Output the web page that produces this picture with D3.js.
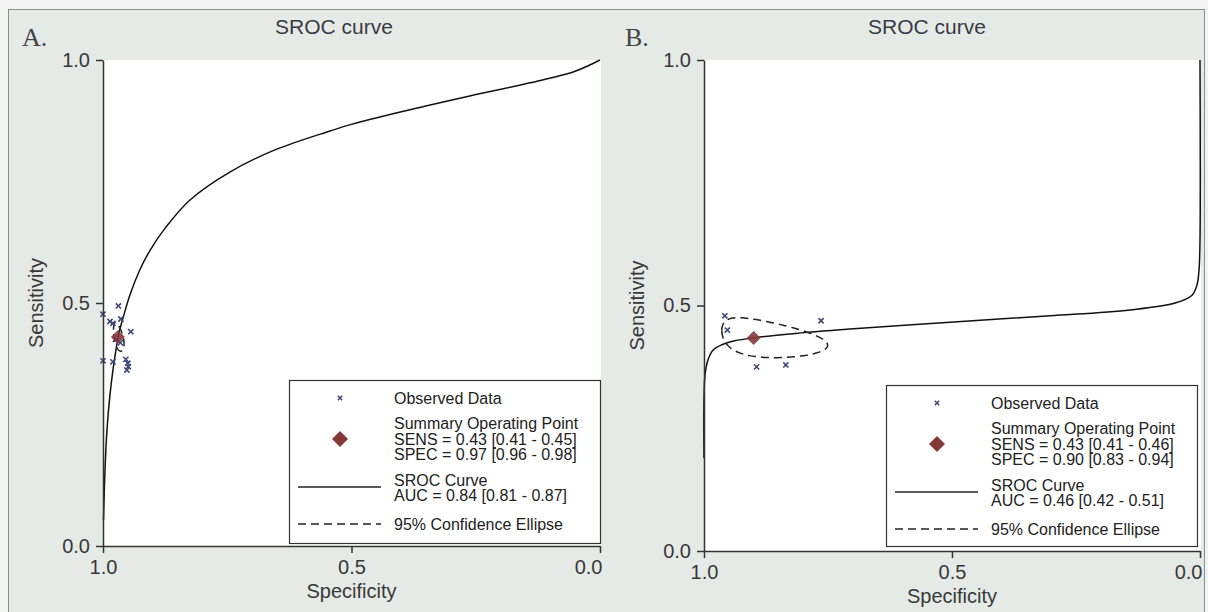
<!DOCTYPE html>
<html>
<head>
<meta charset="utf-8">
<script src="https://cdn.jsdelivr.net/npm/d3@7"></script>
<style>
body { margin: 0; background: #f3f3f3; }
</style>
</head>
<body>
<div id="drawArea"></div>
<script>
// ticks shared by both panels
var tickValues = [0, 0.5, 1];
var tickLabels = ["0.0", "0.5", "1.0"];

// panel A - observed studies (specificity, sensitivity)
var obsSpecA = [0.969, 1.0, 0.986, 0.980, 0.964, 0.944, 1.0, 0.980, 0.954, 0.950, 0.949, 0.952, 0.975, 0.965];
var obsSensA = [0.494, 0.477, 0.462, 0.458, 0.467, 0.441, 0.381, 0.379, 0.384, 0.376, 0.369, 0.362, 0.425, 0.418];
// panel A - SROC curve
var srocSpecA = [0.999, 0.996, 0.992, 0.986, 0.980, 0.974, 0.968, 0.958, 0.946, 0.926, 0.905, 0.875, 0.825, 0.744, 0.654, 0.543, 0.499, 0.402, 0.262, 0.141, 0.050, 0.0];
var srocSensA = [0.053, 0.156, 0.239, 0.311, 0.362, 0.403, 0.438, 0.475, 0.516, 0.568, 0.609, 0.654, 0.712, 0.770, 0.815, 0.854, 0.868, 0.893, 0.926, 0.953, 0.977, 1.0];
var summaryA = [0.97, 0.43];
// confidence ellipse (logit space): half widths and correlation
var ellipseA = [0.36, 0.12, 0.5];
var legendA = ["Observed Data", "Summary Operating Point", "SENS = 0.43 [0.41 - 0.45]", "SPEC = 0.97 [0.96 - 0.98]", "SROC Curve", "AUC = 0.84 [0.81 - 0.87]", "95% Confidence Ellipse"];

// panel B
var obsSpecB = [0.958, 0.953, 0.764, 0.894, 0.835];
var obsSensB = [0.479, 0.450, 0.469, 0.375, 0.379];
var srocSpecB = [1.0, 1.0, 0.998, 0.992, 0.982, 0.964, 0.938, 0.901, 0.827, 0.706, 0.504, 0.302, 0.141, 0.050, 0.016, 0.006, 0.002, 0.0, 0.0];
var srocSensB = [0.189, 0.308, 0.358, 0.389, 0.409, 0.420, 0.428, 0.434, 0.442, 0.452, 0.466, 0.479, 0.491, 0.505, 0.521, 0.542, 0.572, 0.633, 1.0];
var summaryB = [0.90, 0.434];
var ellipseB = [1.095, 0.166, 0.37];
var legendB = ["Observed Data", "Summary Operating Point", "SENS = 0.43 [0.41 - 0.46]", "SPEC = 0.90 [0.83 - 0.94]", "SROC Curve", "AUC = 0.46 [0.42 - 0.51]", "95% Confidence Ellipse"];

var font = "'Liberation Sans', Arial, Helvetica, sans-serif";
var textColor = "#383838";
var markColor = "#3c4878";
var diamondColor = "#843939";

var svg = d3.select("#drawArea").append("svg")
	.attr("width", 1208)
	.attr("height", 612)
	.style("display", "block");

svg.append("rect")
	.attr("x", 0).attr("y", 0)
	.attr("width", 1208).attr("height", 612)
	.attr("fill", "#f3f3f3");

svg.append("rect")
	.attr("x", 8.5).attr("y", 9.5)
	.attr("width", 1196).attr("height", 620)
	.attr("fill", "#e6eae7")
	.attr("stroke", "#8c8c8c");

function logit(p) { return Math.log(p / (1 - p)); }
function expit(v) { return 1 / (1 + Math.exp(-v)); }

function drawPanel(p) {
	var x = d3.scaleLinear().domain([1, 0]).range([p.left, p.right]);
	var y = d3.scaleLinear().domain([0, 1]).range([p.bottom, p.top]);

	// white plot area
	svg.append("rect")
		.attr("x", p.left).attr("y", p.top)
		.attr("width", p.right - p.left + 1)
		.attr("height", p.bottom - p.top)
		.attr("fill", "#fff");

	svg.append("text")
		.attr("x", p.letterX).attr("y", 46)
		.attr("font-family", "'Liberation Serif', 'Times New Roman', serif")
		.attr("font-size", 26)
		.attr("fill", "#444")
		.text(p.letter);

	svg.append("text")
		.attr("x", p.titleX).attr("y", 34)
		.attr("text-anchor", "middle")
		.attr("font-family", font)
		.attr("font-size", 21)
		.attr("fill", "#3a3a44")
		.text("SROC curve");

	// sroc curve
	var line = d3.line()
		.x(function(d) { return x(d[0]); })
		.y(function(d) { return y(d[1]); })
		.curve(d3.curveCatmullRom.alpha(0.5));

	svg.append("path")
		.datum(d3.zip(p.srocSpec, p.srocSens))
		.attr("d", line)
		.attr("fill", "none")
		.attr("stroke", "#111")
		.attr("stroke-width", 1.5);

	// confidence ellipse built in logit space around the summary point
	var cx = logit(p.summary[0]), cy = logit(p.summary[1]);
	var a = p.ellipse[0], b = p.ellipse[1], rho = p.ellipse[2];
	var ell = d3.range(0, 121).map(function(i) {
		var t = i / 120 * 2 * Math.PI;
		var lx = cx + a * Math.cos(t);
		var ly = cy + b * (rho * Math.cos(t) + Math.sqrt(1 - rho * rho) * Math.sin(t));
		return [expit(lx), expit(ly)];
	});
	svg.append("path")
		.datum(ell)
		.attr("d", d3.line().x(function(d) { return x(d[0]); }).y(function(d) { return y(d[1]); }))
		.attr("fill", "none")
		.attr("stroke", "#222")
		.attr("stroke-width", 1.5)
		.attr("stroke-dasharray", "8,5");

	// observed points as small crosses
	var pts = d3.zip(p.obsSpec, p.obsSens);
	svg.append("g").selectAll("path.obs")
		.data(pts)
		.enter()
		.append("path")
			.classed("obs", true)
			.attr("d", function(d) {
				var px = x(d[0]), py = y(d[1]), s = 2.6;
				return "M" + (px - s) + "," + (py - s) + "L" + (px + s) + "," + (py + s) +
					"M" + (px - s) + "," + (py + s) + "L" + (px + s) + "," + (py - s);
			})
			.attr("stroke", markColor)
			.attr("stroke-width", 1.6);

	// summary diamond
	svg.append("path")
		.attr("d", diamond(x(p.summary[0]), y(p.summary[1]), 7))
		.attr("fill", diamondColor)
		.attr("opacity", 0.9);

	// axes
	var yAxis = d3.axisLeft(y)
		.tickValues(tickValues)
		.tickFormat(function(d, i) { return tickLabels[i]; })
		.tickSize(7).tickSizeOuter(0).tickPadding(6);
	var xAxis = d3.axisBottom(x)
		.tickValues(tickValues)
		.tickFormat(function(d, i) { return tickLabels[i]; })
		.tickSize(7).tickSizeOuter(0).tickPadding(7);

	var gy = svg.append("g")
		.attr("transform", "translate(" + p.left + ",0)")
		.call(yAxis);
	var gx = svg.append("g")
		.attr("transform", "translate(0," + p.bottom + ")")
		.call(xAxis);
	[gx, gy].forEach(function(g) {
		g.selectAll("path, line").attr("stroke", "#333").attr("stroke-width", 1.5);
		g.selectAll("text")
			.attr("font-family", font)
			.attr("font-size", 20)
			.attr("fill", textColor);
	});
	// last x label sits flush with the right end of the axis
	gx.selectAll(".tick text")
		.filter(function(d) { return d === 0; })
		.attr("text-anchor", "end")
		.attr("x", 2);

	svg.append("text")
		.attr("x", (p.left + p.right) / 2).attr("y", p.bottom + 52)
		.attr("text-anchor", "middle")
		.attr("font-family", font)
		.attr("font-size", 20)
		.attr("fill", textColor)
		.text("Specificity");

	svg.append("text")
		.attr("transform", "translate(" + p.sensX + "," + y(0.5) + ") rotate(-90)")
		.attr("text-anchor", "middle")
		.attr("dy", "0.35em")
		.attr("font-family", font)
		.attr("font-size", 20)
		.attr("fill", textColor)
		.text("Sensitivity");

	drawLegend(p.legendBox, p.legend);
}

function diamond(cx, cy, r) {
	return "M" + cx + "," + (cy - r) + "L" + (cx + r) + "," + cy +
		"L" + cx + "," + (cy + r) + "L" + (cx - r) + "," + cy + "Z";
}

function drawLegend(box, labels) {
	var g = svg.append("g").attr("transform", "translate(" + box[0] + "," + box[1] + ")");
	g.append("rect")
		.attr("x", 0.5).attr("y", 0.5)
		.attr("width", box[2]).attr("height", box[3])
		.attr("fill", "#fff")
		.attr("stroke", "#333")
		.attr("stroke-width", 1.2);

	var mx = 51, tx = 105;
	var rows = [18, 43, 59, 74, 100, 115, 144];
	g.selectAll("text")
		.data(labels)
		.enter()
		.append("text")
			.attr("x", tx)
			.attr("y", function(d, i) { return rows[i]; })
			.attr("dy", "0.35em")
			.attr("font-family", font)
			.attr("font-size", 16)
			.attr("fill", "#222")
			.text(function(d) { return d; });

	var s = 2.2;
	g.append("path")
		.attr("d", "M" + (mx - s) + "," + (18 - s) + "L" + (mx + s) + "," + (18 + s) +
			"M" + (mx - s) + "," + (18 + s) + "L" + (mx + s) + "," + (18 - s))
		.attr("stroke", markColor)
		.attr("stroke-width", 1.5);

	g.append("path")
		.attr("d", diamond(mx, 59, 8))
		.attr("fill", diamondColor);

	g.append("line")
		.attr("x1", 9).attr("x2", 92)
		.attr("y1", 107).attr("y2", 107)
		.attr("stroke", "#222").attr("stroke-width", 1.3);

	g.append("line")
		.attr("x1", 9).attr("x2", 92)
		.attr("y1", 144).attr("y2", 144)
		.attr("stroke", "#222").attr("stroke-width", 1.3)
		.attr("stroke-dasharray", "8,5");
}

drawPanel({
	letter: "A.", letterX: 22, titleX: 334, sensX: 36,
	left: 103, right: 600, top: 60, bottom: 546,
	obsSpec: obsSpecA, obsSens: obsSensA,
	srocSpec: srocSpecA, srocSens: srocSensA,
	summary: summaryA, ellipse: ellipseA,
	legend: legendA, legendBox: [289, 380, 311, 163]
});

drawPanel({
	letter: "B.", letterX: 625, titleX: 927, sensX: 637,
	left: 704, right: 1200, top: 60, bottom: 551,
	obsSpec: obsSpecB, obsSens: obsSensB,
	srocSpec: srocSpecB, srocSens: srocSensB,
	summary: summaryB, ellipse: ellipseB,
	legend: legendB, legendBox: [886, 385, 311, 161]
});
</script>
</body>
</html>
